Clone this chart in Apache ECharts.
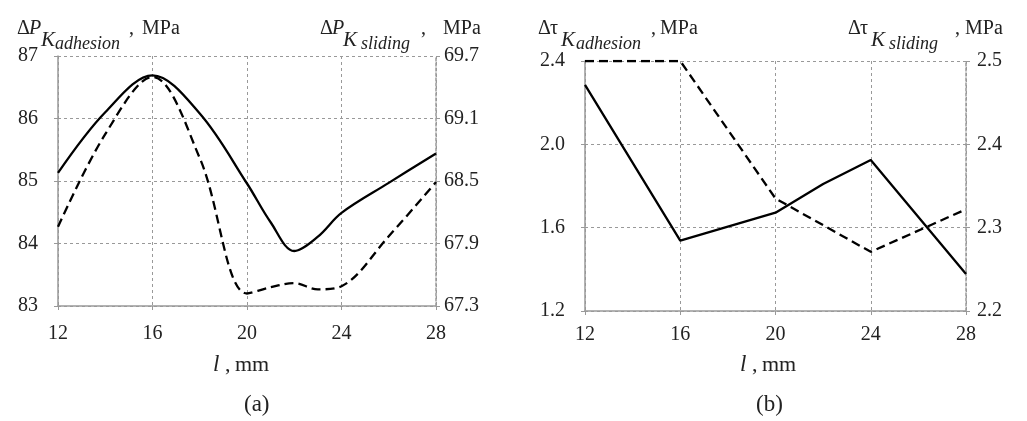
<!DOCTYPE html>
<html>
<head>
<meta charset="utf-8">
<style>
  html, body { margin: 0; padding: 0; background: #fff; }
  #chart { width: 1027px; height: 421px; }
</style>
<script src="https://cdn.jsdelivr.net/npm/echarts@6/dist/echarts.min.js"></script>
</head>
<body>
<div id="chart"></div>
<script>
// (a) l, mm
var lengthsA = [12, 14, 16, 18, 20, 21, 22, 23, 24, 26, 28]
var pAdhesion = [85.13, 86.1, 86.69, 86.08, 84.96, 84.34, 83.88, 84.11, 84.49, 84.97, 85.44]
var pSliding = [68.06, 68.95, 69.50, 68.72, 67.42, 67.48, 67.52, 67.46, 67.49, 67.97, 68.49]
// (b) l, mm
var lengthsB = [12, 16, 20, 22, 24, 28]
var tAdhesion = [2.285, 1.538, 1.672, 1.81, 1.925, 1.378]
var tSliding = [2.5, 2.5, 2.335, 2.303, 2.271, 2.322]

// tick labels
var xTicks = [12, 16, 20, 24, 28]
var pAdhTicks = [83, 84, 85, 86, 87]
var pSlideTicks = [67.3, 67.9, 68.5, 69.1, 69.7]
var tAdhTicks = [1.2, 1.6, 2.0, 2.4]
var tSlideTicks = [2.2, 2.3, 2.4, 2.5]

var FONT = '"Liberation Serif", "DejaVu Serif", serif'
var TXT = '#222'
var AXIS = '#999'

function pairs(xs, ys) {
  return xs.map(function (x, i) { return [x, ys[i]] })
}

function xAxisCfg(gridIndex, margin) {
  return {
    type: 'value',
    gridIndex: gridIndex,
    min: xTicks[0],
    max: xTicks[xTicks.length - 1],
    interval: 4,
    axisLine: { lineStyle: { color: AXIS, width: 1.5 } },
    axisTick: { show: true, length: 4, lineStyle: { color: AXIS } },
    axisLabel: { color: TXT, fontFamily: FONT, fontSize: 20, margin: margin },
    splitLine: { show: true, lineStyle: { color: '#999', type: [3, 3], width: 1 } }
  }
}

function yAxisCfg(gridIndex, ticks, pos, margin, grid, digits) {
  var cfg = {
    type: 'value',
    gridIndex: gridIndex,
    position: pos,
    min: ticks[0],
    max: ticks[ticks.length - 1],
    axisLine: { show: true, lineStyle: { color: AXIS, width: 1.5, type: pos === 'right' ? [3, 2] : 'solid' } },
    axisTick: { show: true, length: 4, lineStyle: { color: AXIS }, customValues: ticks },
    axisLabel: {
      color: TXT, fontFamily: FONT, fontSize: 20, margin: margin,
      customValues: ticks,
      formatter: function (v) { return v.toFixed(digits) }
    },
    splitLine: { show: grid, lineStyle: { color: '#999', type: [3, 3], width: 1 } }
  }
  if (grid) cfg.interval = ticks[1] - ticks[0]
  return cfg
}

function lineSeries(xi, yi, xs, ys, dashed, smooth) {
  return {
    type: 'line',
    xAxisIndex: xi,
    yAxisIndex: yi,
    data: pairs(xs, ys),
    smooth: smooth,
    showSymbol: false,
    symbol: 'none',
    silent: true,
    lineStyle: { color: '#000', width: 2.3, type: dashed ? [9, 5] : 'solid' }
  }
}

// axis titles with subscripts, pieces placed one by one
function piece(x, y, text, size, italic) {
  return {
    type: 'text', x: x, y: y, silent: true,
    style: {
      text: text, fill: TXT, fontFamily: FONT, fontSize: size,
      fontStyle: italic ? 'italic' : 'normal', verticalAlign: 'middle'
    }
  }
}
function titleGroup(xD, xK, xS, xC, xM, sym, italicSym, sub) {
  var items = [piece(xD, 29, 'Δ', 20, false)]
  items.push(piece(xD + 12, 29, sym, 20, italicSym))
  items.push(piece(xK, 40, 'K', 21, true))
  items.push(piece(xS, 44, sub, 18, true))
  items.push(piece(xC, 29, ',', 20, false))
  items.push(piece(xM, 29, 'MPa', 20, false))
  return { type: 'group', children: items }
}

var option = {
  animation: false,
  backgroundColor: '#fff',
  grid: [
    { left: 58, right: 591, top: 56, bottom: 115 },
    { left: 585, right: 61, top: 61, bottom: 110 }
  ],
  xAxis: [xAxisCfg(0, 18), xAxisCfg(1, 14)],
  yAxis: [
    yAxisCfg(0, pAdhTicks, 'left', 20, true, 0),
    yAxisCfg(0, pSlideTicks, 'right', 8, false, 1),
    yAxisCfg(1, tAdhTicks, 'left', 20, true, 1),
    yAxisCfg(1, tSlideTicks, 'right', 11, false, 1)
  ],
  series: [
    lineSeries(0, 0, lengthsA, pAdhesion, false, 0.35),
    lineSeries(0, 1, lengthsA, pSliding, true, 0.35),
    lineSeries(1, 2, lengthsB, tAdhesion, false, false),
    lineSeries(1, 3, lengthsB, tSliding, true, false)
  ],
  graphic: [
    titleGroup(17, 41, 55, 129, 142, 'P', true, 'adhesion'),
    titleGroup(320, 343, 361, 421, 443, 'P', true, 'sliding'),
    titleGroup(538, 561, 576, 651, 660, 'τ', false, 'adhesion'),
    titleGroup(848, 871, 889, 955, 965, 'τ', false, 'sliding'),
    piece(213, 365, 'l', 23, true),
    piece(225, 365, ',', 22, false),
    piece(235, 365, 'mm', 22, false),
    piece(740, 365, 'l', 23, true),
    piece(752, 365, ',', 22, false),
    piece(762, 365, 'mm', 22, false),
    piece(244, 405, '(a)', 23, false),
    piece(756, 405, '(b)', 23, false)
  ]
}

var chartObj = echarts.init(document.getElementById('chart'))
chartObj.setOption(option)
</script>
</body>
</html>
